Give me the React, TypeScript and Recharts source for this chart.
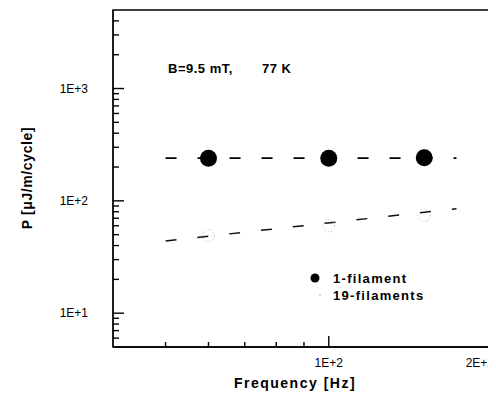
import React from "react";
import {ComposedChart, Line, Scatter, XAxis, YAxis, ReferenceArea} from "recharts";

// measured points
const oneFilFreq = [60, 100, 150];
const oneFilP = [240, 240, 242];
const nineteenFilFreq = [60, 100, 150];
const nineteenFilP = [49, 60, 74];

// dashed fit lines (end points)
const fitOneFreq = [50, 172];
const fitOneP = [240, 240];
const fitNineteenFreq = [50, 172];
const fitNineteenP = [44, 85];

// axis labels and tick marks
const xLabelTicks = [100, 200];
const xTickLabels: any = {100: "1E+2", 200: "2E+2"};
const xMinorTicks = [50, 60, 70, 80, 90];
const xMajorTicks = [100];
const yLabelTicks = [10, 100, 1000];
const yTickLabels: any = {10: "1E+1", 100: "1E+2", 1000: "1E+3"};
const yMinorTicks = [6, 7, 8, 9, 20, 30, 40, 50, 60, 70, 80, 90, 200, 300, 400, 500, 600, 700, 800, 900, 2000, 3000, 4000];
const yMajorTicks = [10, 100, 1000];

const X_MIN = 40;
const Y_MIN = 5;

const toRows = (fs: Array<number>, ps: Array<number>) => fs.map((f, i) => ({f: f, p: ps[i]}));

const oneFil = toRows(oneFilFreq, oneFilP);
const nineteenFil = toRows(nineteenFilFreq, nineteenFilP);
const fitOne = toRows(fitOneFreq, fitOneP);
const fitNineteen = toRows(fitNineteenFreq, fitNineteenP);
const xMinorRows = xMinorTicks.map((f) => ({f: f, p: Y_MIN}));
const xMajorRows = xMajorTicks.map((f) => ({f: f, p: Y_MIN}));
const yMinorRows = yMinorTicks.map((p) => ({f: X_MIN, p: p}));
const yMajorRows = yMajorTicks.map((p) => ({f: X_MIN, p: p}));

const FONT = "'Liberation Sans', Arial, sans-serif";

const XTick = (props: any) => {
    const {x, y, payload} = props;
    const v = payload.value;
    return (
        <text x={v === 200 ? x + 2 : x} y={y + 20} textAnchor={v === 200 ? "end" : "middle"}
              fontFamily={FONT} fontSize={12} fill="#000">{xTickLabels[v]}</text>
    );
};

const YTick = (props: any) => {
    const {x, y, payload} = props;
    return (
        <text x={x - 25} y={y} dy="0.35em" textAnchor="end"
              fontFamily={FONT} fontSize={12} fill="#000">{yTickLabels[payload.value]}</text>
    );
};

// inward tick marks, placed through the chart scales
const xMark = (len: number) => (p: any) =>
    <line x1={p.cx} x2={p.cx} y1={p.cy} y2={p.cy - len} stroke="#000" strokeWidth={1.4}/>;
const yMark = (len: number) => (p: any) =>
    <line x1={p.cx} x2={p.cx + len} y1={p.cy} y2={p.cy} stroke="#000" strokeWidth={1.4}/>;

const BigDot = (props: any) => <circle cx={props.cx} cy={props.cy} r={8.5} fill="#000"/>;
const FaintDot = (props: any) => <circle cx={props.cx} cy={props.cy} r={6} fill="none" stroke="#b8b8b8" strokeWidth={1} strokeDasharray="1 2"/>;

export default () => {
    return (
        <div style={{width: 488, height: 384, overflow: "hidden"}}>
        <ComposedChart width={488} height={384} margin={{top: 2, right: 4, left: 0, bottom: 0}}>
            <XAxis dataKey="f" type="number" scale="log" domain={[X_MIN, 200]} allowDataOverflow
                   ticks={xLabelTicks} interval={0} tickSize={0} tickMargin={0} tick={<XTick/>}
                   axisLine={{stroke: "#000", strokeWidth: 1.3}} tickLine={false} height={45}
                   label={{content: () => (
                       <text x={287} y={380} textAnchor="middle" fontFamily={FONT} fontSize={14}
                             fontWeight="bold" letterSpacing={1.5} fill="#000">Frequency [Hz]</text>
                   )}}/>
            <YAxis dataKey="p" type="number" scale="log" domain={[Y_MIN, 5000]} allowDataOverflow
                   ticks={yLabelTicks} interval={0} tickSize={0} tickMargin={0} tick={<YTick/>}
                   axisLine={{stroke: "#000", strokeWidth: 1.3}} tickLine={false} width={105}
                   label={{content: () => (
                       <text x={19} y={170} textAnchor="middle" fontFamily={FONT} fontSize={14}
                             fontWeight="bold" letterSpacing={0.6} fill="#000"
                             transform="rotate(-90 19 170)" dy="0.35em">P [μJ/m/cycle]</text>
                   )}}/>
            <ReferenceArea x1={X_MIN} x2={200} y1={Y_MIN} y2={5000} fill="none" stroke="#000" strokeWidth={1.3}
                           fillOpacity={0} ifOverflow="visible"/>
            <Scatter data={xMinorRows} dataKey="p" shape={xMark(5)} isAnimationActive={false}/>
            <Scatter data={xMajorRows} dataKey="p" shape={xMark(11)} isAnimationActive={false}/>
            <Scatter data={yMinorRows} dataKey="p" shape={yMark(6)} isAnimationActive={false}/>
            <Scatter data={yMajorRows} dataKey="p" shape={yMark(11)} isAnimationActive={false}/>
            <Line data={fitOne} dataKey="p" stroke="#000" strokeWidth={1.6} strokeDasharray="11 21"
                  dot={false} isAnimationActive={false}/>
            <Line data={fitNineteen} dataKey="p" stroke="#111" strokeWidth={1.5} strokeDasharray="11 21"
                  dot={false} isAnimationActive={false}/>
            <Scatter data={oneFil} dataKey="p" shape={BigDot} isAnimationActive={false}/>
            <Scatter data={nineteenFil} dataKey="p" shape={FaintDot} isAnimationActive={false}/>

            <text x={160} y={60} dy="0.35em" fontFamily={FONT} fontSize={13} fontWeight="bold" letterSpacing={0.5} fill="#000">B=9.5 mT,</text>
            <text x={254} y={60} dy="0.35em" fontFamily={FONT} fontSize={13} fontWeight="bold" letterSpacing={0.5} fill="#000">77 K</text>

            <circle cx={307} cy={270} r={4.5} fill="#000"/>
            <text x={325} y={270} dy="0.35em" fontFamily={FONT} fontSize={13} fontWeight="bold" letterSpacing={1.3} fill="#000">1-filament</text>
            <circle cx={312} cy={287} r={1} fill="#c8c8c8"/>
            <text x={325} y={287} dy="0.35em" fontFamily={FONT} fontSize={13} fontWeight="bold" letterSpacing={1.3} fill="#000">19-filaments</text>
        </ComposedChart>
        </div>
    );
};
